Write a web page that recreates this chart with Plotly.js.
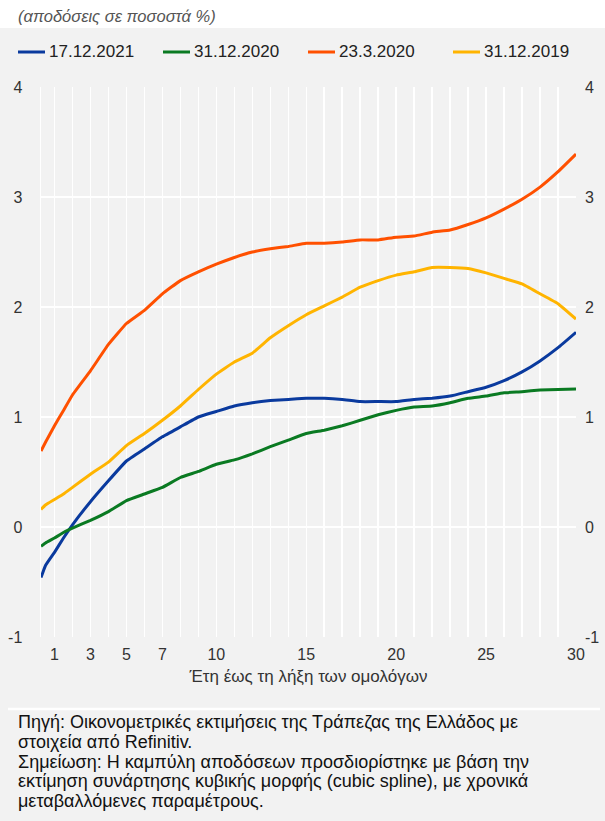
<!DOCTYPE html>
<html>
<head>
<meta charset="utf-8">
<script src="https://cdn.plot.ly/plotly-3.0.1.min.js"></script>
<style>html,body{margin:0;padding:0;background:#fff;}#chart{width:605px;height:821px;}</style>
</head>
<body>
<div id="chart"></div>
<script>
// Maturity in years
const maturities = [0.25, 0.5, 1, 1.5, 2, 3, 4, 5, 6, 7, 8, 9, 10, 11, 12, 13, 14, 15, 16, 17, 18, 19, 20, 21, 22, 23, 24, 25, 26, 27, 28, 29, 30];
const seriesNames = ["17.12.2021", "31.12.2020", "23.3.2020", "31.12.2019"];
const yields_20211217 = [-0.46, -0.35, -0.23, -0.10, 0.02, 0.23, 0.42, 0.60, 0.71, 0.82, 0.91, 1.00, 1.05, 1.10, 1.13, 1.15, 1.16, 1.17, 1.17, 1.16, 1.14, 1.14, 1.14, 1.16, 1.17, 1.19, 1.23, 1.27, 1.33, 1.41, 1.51, 1.63, 1.77];
const yields_20201231 = [-0.175, -0.145, -0.10, -0.05, -0.01, 0.06, 0.14, 0.24, 0.30, 0.36, 0.45, 0.505, 0.57, 0.61, 0.665, 0.73, 0.79, 0.85, 0.88, 0.92, 0.97, 1.02, 1.06, 1.09, 1.10, 1.13, 1.17, 1.19, 1.22, 1.23, 1.245, 1.25, 1.255];
const yields_20200323 = [0.69, 0.77, 0.92, 1.06, 1.20, 1.42, 1.66, 1.85, 1.97, 2.12, 2.24, 2.32, 2.39, 2.45, 2.50, 2.53, 2.55, 2.58, 2.58, 2.59, 2.61, 2.61, 2.635, 2.645, 2.68, 2.70, 2.75, 2.81, 2.89, 2.98, 3.09, 3.23, 3.39];
const yields_20191231 = [0.16, 0.20, 0.25, 0.30, 0.36, 0.48, 0.59, 0.74, 0.85, 0.97, 1.10, 1.25, 1.39, 1.50, 1.58, 1.72, 1.83, 1.93, 2.01, 2.09, 2.18, 2.24, 2.29, 2.32, 2.36, 2.36, 2.35, 2.31, 2.26, 2.21, 2.12, 2.03, 1.89];
const seriesColors = ["#0a3a9e", "#0a7a22", "#ff5000", "#ffb400"];
const xTickVals = [1, 3, 5, 7, 10, 15, 20, 25, 30];
const xTickText = ["1", "3", "5", "7", "10", "15", "20", "25", "30"];
const yTickVals = [-1, 0, 1, 2, 3, 4];
const yTickText = ["-1", "0", "1", "2", "3", "4"];
const sourceLines = [
  "Πηγή: Οικονομετρικές εκτιμήσεις της Τράπεζας της Ελλάδος με",
  "στοιχεία από Refinitiv.",
  "Σημείωση: Η καμπύλη αποδόσεων προσδιορίστηκε με βάση την",
  "εκτίμηση συνάρτησης κυβικής μορφής (cubic spline), με χρονικά",
  "μεταβαλλόμενες παραμέτρους."
];

const allSeries = [yields_20211217, yields_20201231, yields_20200323, yields_20191231];
const traces = allSeries.map((ys, i) => ({
  x: maturities, y: ys, name: seriesNames[i], type: 'scatter', mode: 'lines',
  line: {color: seriesColors[i], width: 3, shape: 'spline', smoothing: 0.3},
  hoverinfo: 'skip', showlegend: false
}));
traces.push({x: [null], y: [null], yaxis: 'y2', showlegend: false, hoverinfo: 'skip', type: 'scatter', mode: 'lines'});

const font = "Liberation Sans, Arial, Helvetica, sans-serif";
const plotTop = 87, plotBottom = 637, plotH = plotBottom - plotTop;
const py = pix => (plotBottom - pix) / plotH;
const plotLeft = 41, plotRight = 576, plotW = plotRight - plotLeft;
const px = pix => (pix - plotLeft) / plotW;

// manual legend (one row)
const legendY = py(52);
const legendShapes = seriesNames.map((n, i) => ({
  type: 'line', xref: 'paper', yref: 'paper',
  x0: px(18 + 145 * i), x1: px(45 + 145 * i), y0: legendY, y1: legendY,
  line: {color: seriesColors[i], width: 3}
}));
const legendAnnotations = seriesNames.map((n, i) => ({
  text: n, xref: 'paper', yref: 'paper', x: px(47 + 145 * i), y: legendY,
  xanchor: 'left', yanchor: 'middle', showarrow: false,
  font: {family: font, size: 17, color: '#222'}
}));

const sourceAnnotations = sourceLines.map((t, i) => ({
  text: t, xref: 'paper', yref: 'paper', x: px(16), y: py(722 + i * 19.8),
  xanchor: 'left', yanchor: 'middle', align: 'left', showarrow: false,
  font: {family: font, size: 18, color: '#111'}
}));

const layout = {
  width: 605, height: 821,
  paper_bgcolor: '#f2f2f2', plot_bgcolor: '#f2f2f2',
  margin: {l: 41, r: 29, t: 87, b: 184},
  font: {family: font, color: '#333', size: 15},
  showlegend: false,
  xaxis: {
    range: [0.25, 30], tickmode: 'array', tickvals: xTickVals, ticktext: xTickText,
    showgrid: true, gridcolor: '#ffffff', gridwidth: 1.5, zeroline: false,
    ticks: '', ticklabelstandoff: 6,
    tickfont: {family: font, size: 16, color: '#333'},
    minor: {tickmode: 'linear', tick0: 0, dtick: 1, showgrid: true, gridcolor: '#ffffff', gridwidth: 1.5, ticks: ''},
    title: {text: 'Έτη έως τη λήξη των ομολόγων', font: {family: font, size: 17, color: '#333'}, standoff: 8},
    fixedrange: true
  },
  yaxis: {
    range: [-1, 4], tickmode: 'array', tickvals: yTickVals, ticktext: yTickText,
    showgrid: true, gridcolor: '#ffffff', gridwidth: 1.5, zeroline: false,
    showline: true, linecolor: '#ffffff', linewidth: 1.5, mirror: false,
    ticks: '', ticklabelstandoff: 14,
    tickfont: {family: font, size: 16, color: '#333'},
    fixedrange: true
  },
  yaxis2: {
    range: [-1, 4], tickmode: 'array', tickvals: yTickVals, ticktext: yTickText, overlaying: 'y', side: 'right',
    showgrid: false, zeroline: false, ticks: '', ticklabelstandoff: 8,
    tickfont: {family: font, size: 16, color: '#333'},
    fixedrange: true
  },
  shapes: [
    {type: 'rect', xref: 'paper', yref: 'paper', x0: px(-5), x1: px(610), y0: py(28), y1: py(-5), fillcolor: '#ffffff', line: {width: 0}, layer: 'below'},
    {type: 'line', xref: 'paper', yref: 'paper', x0: px(8), x1: px(600), y0: py(709), y1: py(709), line: {color: '#ffffff', width: 2.5}}
  ].concat(legendShapes),
  annotations: [
    {text: '<i>(αποδόσεις σε ποσοστά %)</i>', xref: 'paper', yref: 'paper', x: px(16), y: py(16), xanchor: 'left', yanchor: 'middle', showarrow: false, font: {family: font, size: 16.5, color: '#555'}}
  ].concat(legendAnnotations, sourceAnnotations)
};

Plotly.newPlot('chart', traces, layout, {staticPlot: true, displayModeBar: false});
</script>
</body>
</html>
